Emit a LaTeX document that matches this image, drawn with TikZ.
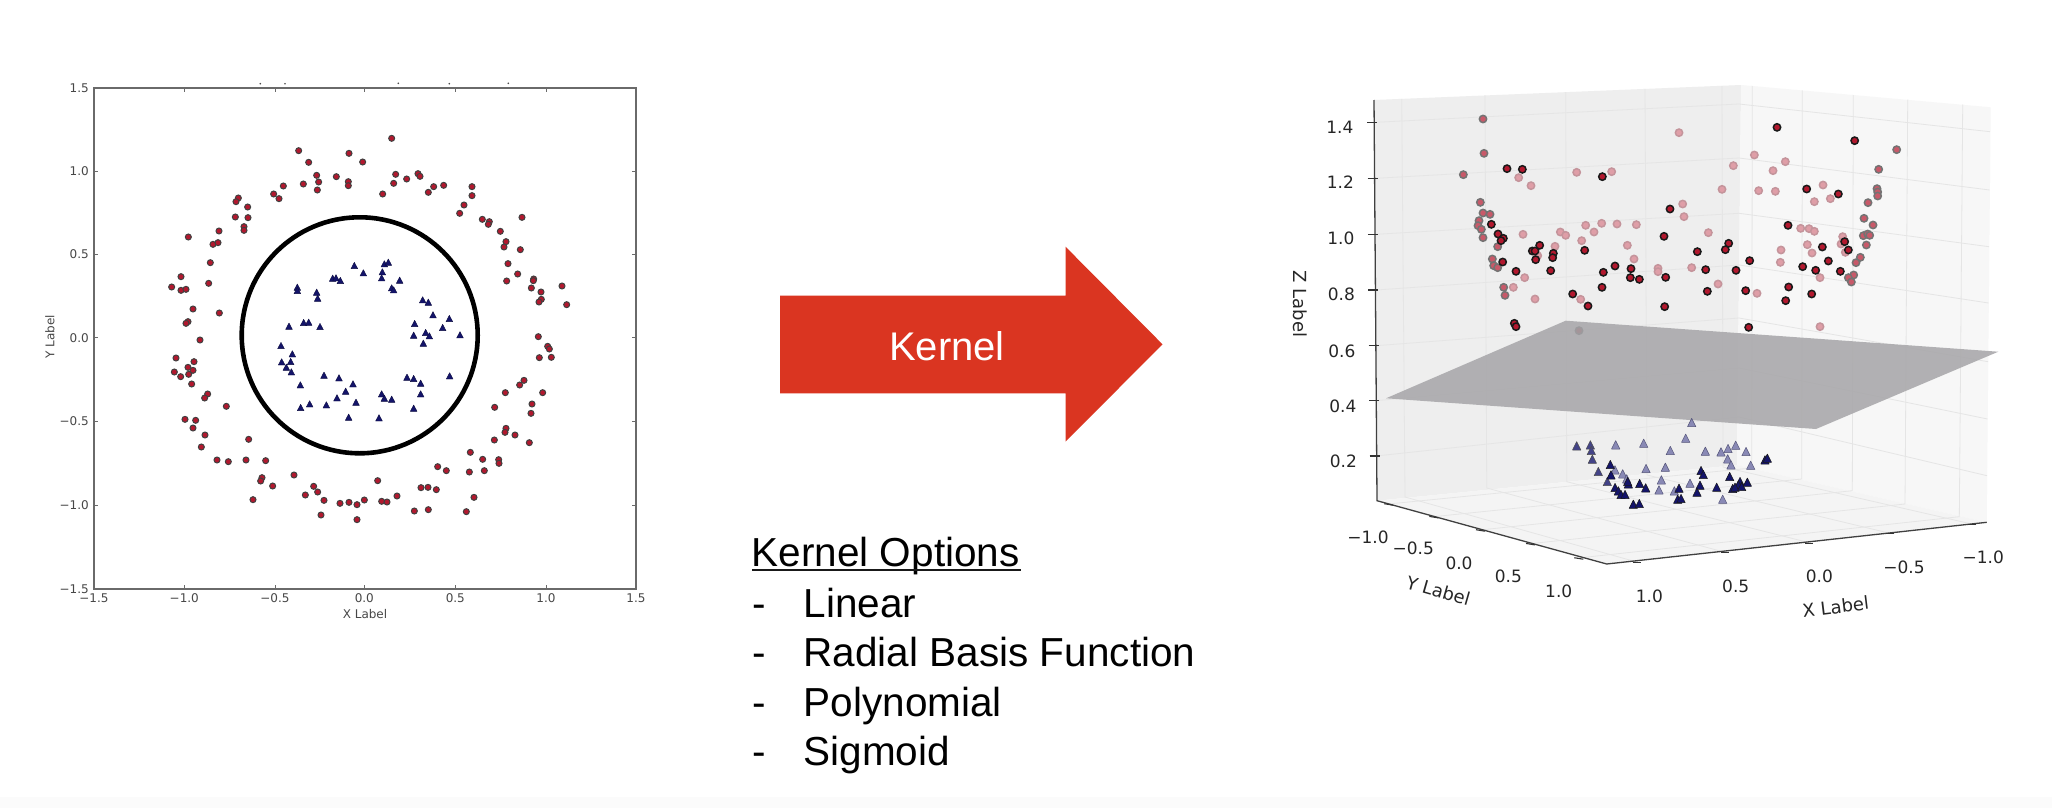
\documentclass[tikz,border=0pt]{standalone}
\usepackage{fontspec}
\setmainfont{Liberation Sans}
\newfontfamily\plotfont{DejaVu Sans}
\definecolor{plotred}{HTML}{B2182E}
\definecolor{plotnavy}{HTML}{14146A}
\definecolor{kernelred}{HTML}{DA3521}
\definecolor{framegray}{HTML}{6A6A6A}
\definecolor{planegray}{HTML}{A8A7AA}
\tikzset{
  x=1pt,y=-1pt,
  zoomview/.style={x=0.33333pt,y=-0.33333pt},
  planetick/.style={font=\plotfont\fontsize{12}{12}\selectfont,text=black!72,inner sep=0pt},
  cubetick/.style={font=\plotfont\fontsize{17}{17}\selectfont,text=black!85,inner sep=0pt},
  cubelabel/.style={font=\plotfont\fontsize{18}{18}\selectfont,text=black!85,inner sep=0pt},
  gridline/.style={draw=black!10,line width=.8pt},
  slidetext/.style={font=\fontsize{40.5}{40.5}\selectfont,text=black,inner sep=0pt,anchor=base west},
}
\newcommand{\flatdots}[1]{\foreach \p in {#1} {\filldraw[fill=plotred,draw=black!75,line width=1pt] \p circle[radius=9];}}
\newcommand{\flattris}[1]{\foreach \a/\b in {#1} {\filldraw[fill=plotnavy,draw=plotnavy!60!black,line width=.4pt,line join=round] (\a-10,\b+9) -- (\a+10,\b+9) -- (\a,\b-10) -- cycle;}}
\newcommand{\cubedots}[3]{\foreach \p in {#1} {\filldraw[fill=#2,draw=#3,line width=1.5pt] \p circle[radius=11];}}
\newcommand{\cubetris}[3]{\foreach \a/\b in {#1} {\filldraw[fill=#2,draw=#3,line width=.5pt,line join=round] (\a-12.5,\b+12) -- (\a+12.5,\b+12) -- (\a,\b-13) -- cycle;}}
\begin{document}
\begin{tikzpicture}
\useasboundingbox (0,0) rectangle (2052,808);
\fill[white] (0,0) rectangle (2052,808);
\fill[black!1.5] (0,797) rectangle (2052,808);

%% ---------- flat plot ----------
\draw[framegray,line width=1.5pt] (94,88) rectangle (636,589);
\foreach \t in {184.3,275,364.3,455.3,546} {
  \draw[framegray,line width=.6pt] (\t,88) -- (\t,92) (\t,589) -- (\t,585);}
\foreach \t in {171,254.3,337.7,421,505} {
  \draw[framegray,line width=.6pt] (94,\t) -- (98,\t) (636,\t) -- (632,\t);}
\foreach \p in {(260.3,83.7),(285,83.7),(398.3,83.3),(449.3,83.7),(508.3,83.3)} \fill[black!70] \p circle[radius=.9];
\foreach \t/\l in {94/{−1.5},184.3/{−1.0},275/{−0.5},364.3/0.0,455.3/0.5,546/1.0,636/1.5}
  \node[planetick] (xt\t) at (\t,598.5) {\l};
\foreach \t/\l in {88/1.5,171/1.0,254.3/0.5,337.7/0.0,421/{−0.5},505/{−1.0},589/{−1.5}}
  \node[planetick,anchor=east] (yt\t) at (89,\t) {\l};
\node[planetick] (xlabel) at (365,614) {X Label};
\node[planetick,rotate=90] (ylabel) at (50,337) {Y Label};

\begin{scope}[shift={(30,50)},zoomview]
\flatdots{(806,302),(836,337),(957,310),(860,376),(866,396),(820,402),(862,420),(919,380),(955,395),(955,407),(760,408),(731,432),(747,446),(625,444),(618,455),(653,471),(616,501),(654,503),(642,530),(642,541),(567,543),(475,561),(549,583),(564,578),(541,638),(453,680),(425,711),(453,721),(468,718),(536,700),(489,777),(568,789),(474,815),(468,820)}
\flattris{802/712,802/722,860/727,863/745,908/685,918/684,931/692,777/829,821/818,836/817,870/830}
\end{scope}
\begin{scope}[shift={(350,70)},zoomview]
\flatdots{(125,205),(38,276),(137,313),(131,340),(170,327),(204,311),(210,319),(98,372),(235,367),(251,350),(281,346),(366,350),(366,377),(342,405),(329,430),(397,448),(418,455),(415,463),(516,442),(451,484),(468,515),(462,531),(511,539),(474,581),(503,612),(470,633),(551,627),(550,632),(544,654),(573,666),(636,648),(574,688),(567,696),(650,704),(565,800),(593,829),(598,837),(568,863),(604,862)}
\flattris{13/587,40/609,103/582,115/577,97/606,95/624,149/631,125/654,131/660,218/690,235/697,249/735,194/761,298/746,278/773,330/795,191/796,227/788,238/798,220/820}
\end{scope}
\begin{scope}[shift={(350,330)},zoomview]
\flatdots{(522,151),(509,165),(466,188),(578,188),(546,222),(434,232),(543,250),(468,295),(465,307),(495,315),(433,330),(538,338),(361,367),(398,388),(446,389),(447,400),(403,422),(289,422),(358,426),(263,410),(83,452),(213,473),(234,472),(259,479),(372,502),(141,498),(43,510),(95,514),(111,516),(21,524),(193,543),(235,539),(349,545),(21,569)}
\flattris{171/142,191/146,212/160,299/138,212/192,95/192,103/205,125/208,191/235,87/264}
\end{scope}
\begin{scope}[shift={(60,330)},zoomview]
\flatdots{(420,30),(348,84),(402,95),(384,112),(399,121),(343,126),(386,133),(362,140),(395,162),(443,192),(434,204),(499,229),(375,268),(407,271),(399,294),(435,315),(424,351),(566,328),(471,390),(505,395),(558,390),(617,392),(702,435),(606,443),(602,453),(638,468),(761,469),(773,486),(736,495),(579,509),(792,511),(840,520),(867,517),(783,555)}
\flattris{663/47,697/72,665/96,692/95,679/112,694/126,721/165,792/136,837/144,879/162,857/184,831/204,888/217,749/222,799/225,722/233,866/262}
\end{scope}
\draw[black,line width=4.6pt] (359.7,335.3) circle[radius=118];

%% ---------- arrow ----------
\fill[kernelred] (780,295.5) -- (1065.5,295.5) -- (1065.5,246.7) -- (1162.5,344.3) -- (1065.5,441.7) -- (1065.5,393.3) -- (780,393.3) -- cycle;
\node[font=\fontsize{40}{40}\selectfont,text=white,inner sep=0pt,anchor=base] (kernel) at (947,360) {Kernel};

%% ---------- kernel options ----------
\node[slidetext] (optt) at (751.5,566.7) {Kernel Options};
\fill[black!90] (752,568.8) rectangle (1021,571.4);
\foreach \n/\b/\l in {a/617.2/Linear,b/666.5/Radial Basis Function,c/716.2/Polynomial,d/765.8/Sigmoid} {
  \node[slidetext] (dash\n) at (752,\b) {-};
  \node[slidetext] (opt\n) at (803.5,\b) {\l};
}

%% ---------- 3-D plot: walls ----------
\fill[black!6.5] (1374,100) -- (1741,85) -- (1737,465) -- (1377,500.7) -- cycle;
\fill[black!3] (1741,85) -- (1990.7,107.3) -- (1986.7,522.3) -- (1737,465) -- cycle;
\fill[black!4.5] (1377,500.7) -- (1737,465) -- (1986.7,522.3) -- (1606.7,564) -- cycle;
\foreach \a/\b/\c/\d/\e/\f in {1401.7/98.8/1405/497/1636.7/562,1485/95.4/1486.7/488/1725/552.3,1565.7/92.1/1566.7/481.7/1809.3/542.7,1645/88.9/1647/475/1890/533.3,1722/85.8/1723/467/1971.7/524}
  \draw[gridline] (\a,\b) -- (\c,\d) -- (\e,\f);
\foreach \a/\b/\c/\d/\e/\f in {1752.3/86/1751.7/468/1388.3/504,1802.3/90.4/1801.7/479/1433.3/516.7,1853.3/95/1852.3/490.7/1480/530,1907.7/99.7/1905/504/1530/543.7,1962.7/104.5/1959.3/516.7/1578.3/558}
  \draw[gridline] (\a,\b) -- (\c,\d) -- (\e,\f);
\foreach \a/\b/\c/\d in {122.3/104/1990/131.7,178.3/158/1989.5/190,234.3/213.3/1989/246.7,290/265/1988.5/303,345.7/318/1988/361.7,400.7/368/1987.5/419,456/417/1987/475.7}
  \draw[gridline] (1376,\a) -- (1739,\b) -- (\c,\d);

%% back markers, seen through the plane
\begin{scope}[shift={(1360,90)},zoomview]
\cubedots{(657,722)}{plotred!80!black}{black!75}
\end{scope}

%% ---------- plane ----------
\fill[planegray,opacity=.88] (1565.7,320.7) -- (1998.3,351.7) -- (1816,429) -- (1386,398.3) -- cycle;

%% axes
\draw[black!75,line width=1.3pt] (1374,100) -- (1377,500.7) -- (1606.7,564) -- (1986.7,522.3);
\foreach \t/\y in {1374.2/122.3,1374.5/178.3,1374.9/234.3,1375.3/290,1375.7/345.7,1376.1/400.7,1376.5/456}
  \draw[black!80,line width=1.1pt] (\t-7,\y) -- (\t+3,\y);
\foreach \x/\y in {1388.3/504,1433.3/516.7,1480/530,1530/543.7,1578.3/558}
  \draw[black!80,line width=1.1pt] (\x-4,\y-.3) -- (\x+5,\y+1.2);
\foreach \x/\y in {1636.7/562,1725/552.3,1809.3/542.7,1890/533.3,1971.7/524}
  \draw[black!80,line width=1.1pt] (\x-4,\y+.5) -- (\x+4,\y+.5);

\foreach \n/\x/\y/\l in {a/1353.6/127/1.4,b/1354/182.5/1.2,c/1354.5/238.5/1.0,d/1355/294/0.8,e/1355.5/351/0.6,f/1356.5/406/0.4,g/1357/461/0.2}
  \node[cubetick,anchor=east] (zt\n) at (\x,\y) {\l};
\foreach \n/\x/\y/\l in {a/1368/537/{−1.0},b/1413.3/548.3/{−0.5},c/1459/563.3/0.0,d/1508.3/576.7/0.5,e/1558.7/591/1.0}
  \node[cubetick] (yy\n) at (\x,\y) {\l};
\foreach \n/\x/\y/\l in {a/1649.3/596.7/1.0,b/1735.7/586.7/0.5,c/1819.3/576.7/0.0,d/1904/567.7/{−0.5},e/1983.3/557.7/{−1.0}}
  \node[cubetick] (xx\n) at (\x,\y) {\l};
\node[cubelabel,rotate=-90] (zlabel) at (1300,304) {Z Label};
\node[cubelabel,rotate=-16] (ylab) at (1438.3,590.7) {Y Label};
\node[cubelabel,rotate=7] (xlab) at (1835.7,606.7) {X Label};

%% ---------- 3-D markers ----------
\colorlet{redlight}{plotred!42!white}
\colorlet{redlightedge}{black!30!plotred!45!white}
\colorlet{redmid}{plotred!72!white}
\begin{scope}[shift={(1360,90)},zoomview]
\cubedots{(957,128),(650,247),(755,245),(476,263),(513,287),(968,342),(972,380),(677,406),(725,400),(771,402),(829,404),(702,426),(601,426),(617,436),(489,433),(665,452),(585,469),(533,497),(802,466),(822,507),(894,535),(894,545),(494,563),(460,592),(525,627),(662,628)}{redlight}{redlightedge}
\cubedots{(369,87),(372,190),(310,254),(361,337),(369,369),(390,373),(357,392),(354,407),(364,418),(369,443),(413,470),(397,507),(401,527),(413,533),(431,592),(435,616)}{redmid}{black!55}
\cubedots{(441,236),(487,238),(727,260),(930,357),(912,439),(394,403),(414,432),(430,445),(423,452),(539,466),(517,483),(525,483),(580,490),(578,503),(527,509),(674,481),(428,516),(468,544),(572,542),(730,547),(765,528),(813,536),(811,563),(838,568),(917,562),(726,592),(638,612),(684,648),(914,650),(463,700),(468,710)}{plotred}{black!90}
\end{scope}
\begin{scope}[shift={(1690,90)},zoomview]
\cubedots{(193,195),(130,227),(286,215),(249,242),(96,298),(206,302),(256,304),(399,285),(373,335),(421,326),(332,415),(357,416),(373,424),(55,428),(458,440),(453,462),(352,464),(366,489),(466,487),(273,480),(271,517),(5,533),(390,563),(84,582),(201,610),(390,710)}{redlight}{redlightedge}
\cubedots{(620,179),(566,238),(561,296),(563,306),(563,318),(534,338),(522,385),(549,405),(520,437),(533,432),(539,436),(529,465),(511,502),(498,518),(491,555),(475,563),(484,576)}{redmid}{black!55}
\cubedots{(261,112),(494,152),(350,297),(445,312),(294,406),(116,460),(106,479),(22,485),(179,512),(47,539),(138,541),(52,604),(167,602),(296,591),(365,612),(287,632),(176,712),(397,471),(475,480),(464,455),(415,513),(338,530),(377,541),(451,544)}{plotred}{black!90}
\end{scope}
\colorlet{navylight}{plotnavy!50!white}
\begin{scope}[shift={(1360,380)},zoomview]
\cubetris{767/195,851/190,995/128,977/175,931/212,858/266,916/262,765/270,788/282,800/297,904/300,897/330,943/333,990/310}{navylight}{plotnavy!60!black!70}
\cubetris{650/198,691/195,715/275,697/238,694/212,742/305}{plotnavy!80!white}{black!70}
\cubetris{751/254,753/285,805/312,803/305,765/323,775/333,783/344,795/344,839/311,857/324,820/373,838/371,957/325,953/358,963/356}{plotnavy}{black!90}
\end{scope}
\begin{scope}[shift={(1690,380)},zoomview]
\cubetris{46/214,93/216,114/206,137/196,168/215,113/237,123/255,182/256,98/358}{navylight}{plotnavy!60!black!70}
\cubetris{33/272,40/284,30/316,21/337,80/322,119/290,150/305,145/315,128/326,135/322,155/320,172/307,225/240,232/235}{plotnavy}{black!90}
\end{scope}
\end{tikzpicture}
\end{document}
